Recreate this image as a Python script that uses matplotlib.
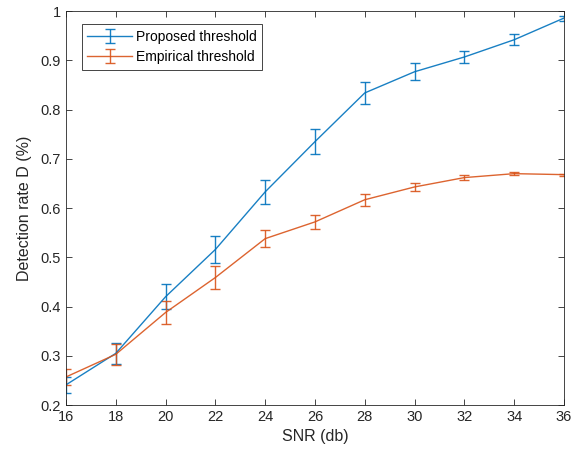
import matplotlib
matplotlib.use('Agg')
import matplotlib.pyplot as plt

plt.rcParams['font.family'] = ['Liberation Sans', 'DejaVu Sans']

snr = [16, 18, 20, 22, 24, 26, 28, 30, 32, 34, 36]

proposed = [0.241, 0.305, 0.420, 0.516, 0.633, 0.735, 0.834, 0.877, 0.907, 0.942, 0.986]
proposed_err = [0.016, 0.022, 0.025, 0.028, 0.025, 0.025, 0.022, 0.017, 0.013, 0.011, 0.005]

empirical = [0.257, 0.303, 0.388, 0.459, 0.538, 0.572, 0.617, 0.643, 0.662, 0.670, 0.668]
empirical_err = [0.017, 0.021, 0.024, 0.024, 0.018, 0.014, 0.012, 0.0075, 0.005, 0.003, 0.002]

blue = (0.0, 0.447, 0.741)
orange = (0.85, 0.325, 0.098)

fig = plt.figure(figsize=(5.79, 4.59), dpi=100)
ax = fig.add_axes([0.114, 0.1176, 0.860, 0.858])

ax.errorbar(snr, proposed, yerr=proposed_err, color=blue, lw=1.0, alpha=0.9,
            capsize=3.6, capthick=1.0, elinewidth=1.0, label='Proposed threshold')
ax.errorbar(snr, empirical, yerr=empirical_err, color=orange, lw=1.0, alpha=0.9,
            capsize=3.6, capthick=1.0, elinewidth=1.0, label='Empirical threshold')

ax.set_xlim(16, 36)
ax.set_ylim(0.2, 1.0)
ax.set_xticks(range(16, 37, 2))
ax.set_yticks([0.2, 0.3, 0.4, 0.5, 0.6, 0.7, 0.8, 0.9, 1.0])
ax.set_yticklabels(['0.2', '0.3', '0.4', '0.5', '0.6', '0.7', '0.8', '0.9', '1'])
ax.tick_params(direction='in', top=True, right=True, labelsize=10.5,
               colors='#262626', length=4, width=0.6)
for s in ax.spines.values():
    s.set_linewidth(0.6)
    s.set_color('#262626')

ax.set_xlabel('SNR (db)', fontsize=11.5, color='#262626')
ax.set_ylabel('Detection rate D (%)', fontsize=11.5, color='#262626', labelpad=6)

leg = ax.legend(loc='upper left', bbox_to_anchor=(0.032, 0.967), fontsize=10,
                fancybox=False, edgecolor='#262626', framealpha=1,
                handlelength=3.2, borderpad=0.4, labelspacing=0.45,
                handletextpad=0.3, borderaxespad=0)
leg.get_frame().set_linewidth(0.6)

fig.savefig('out.png', dpi=100)
